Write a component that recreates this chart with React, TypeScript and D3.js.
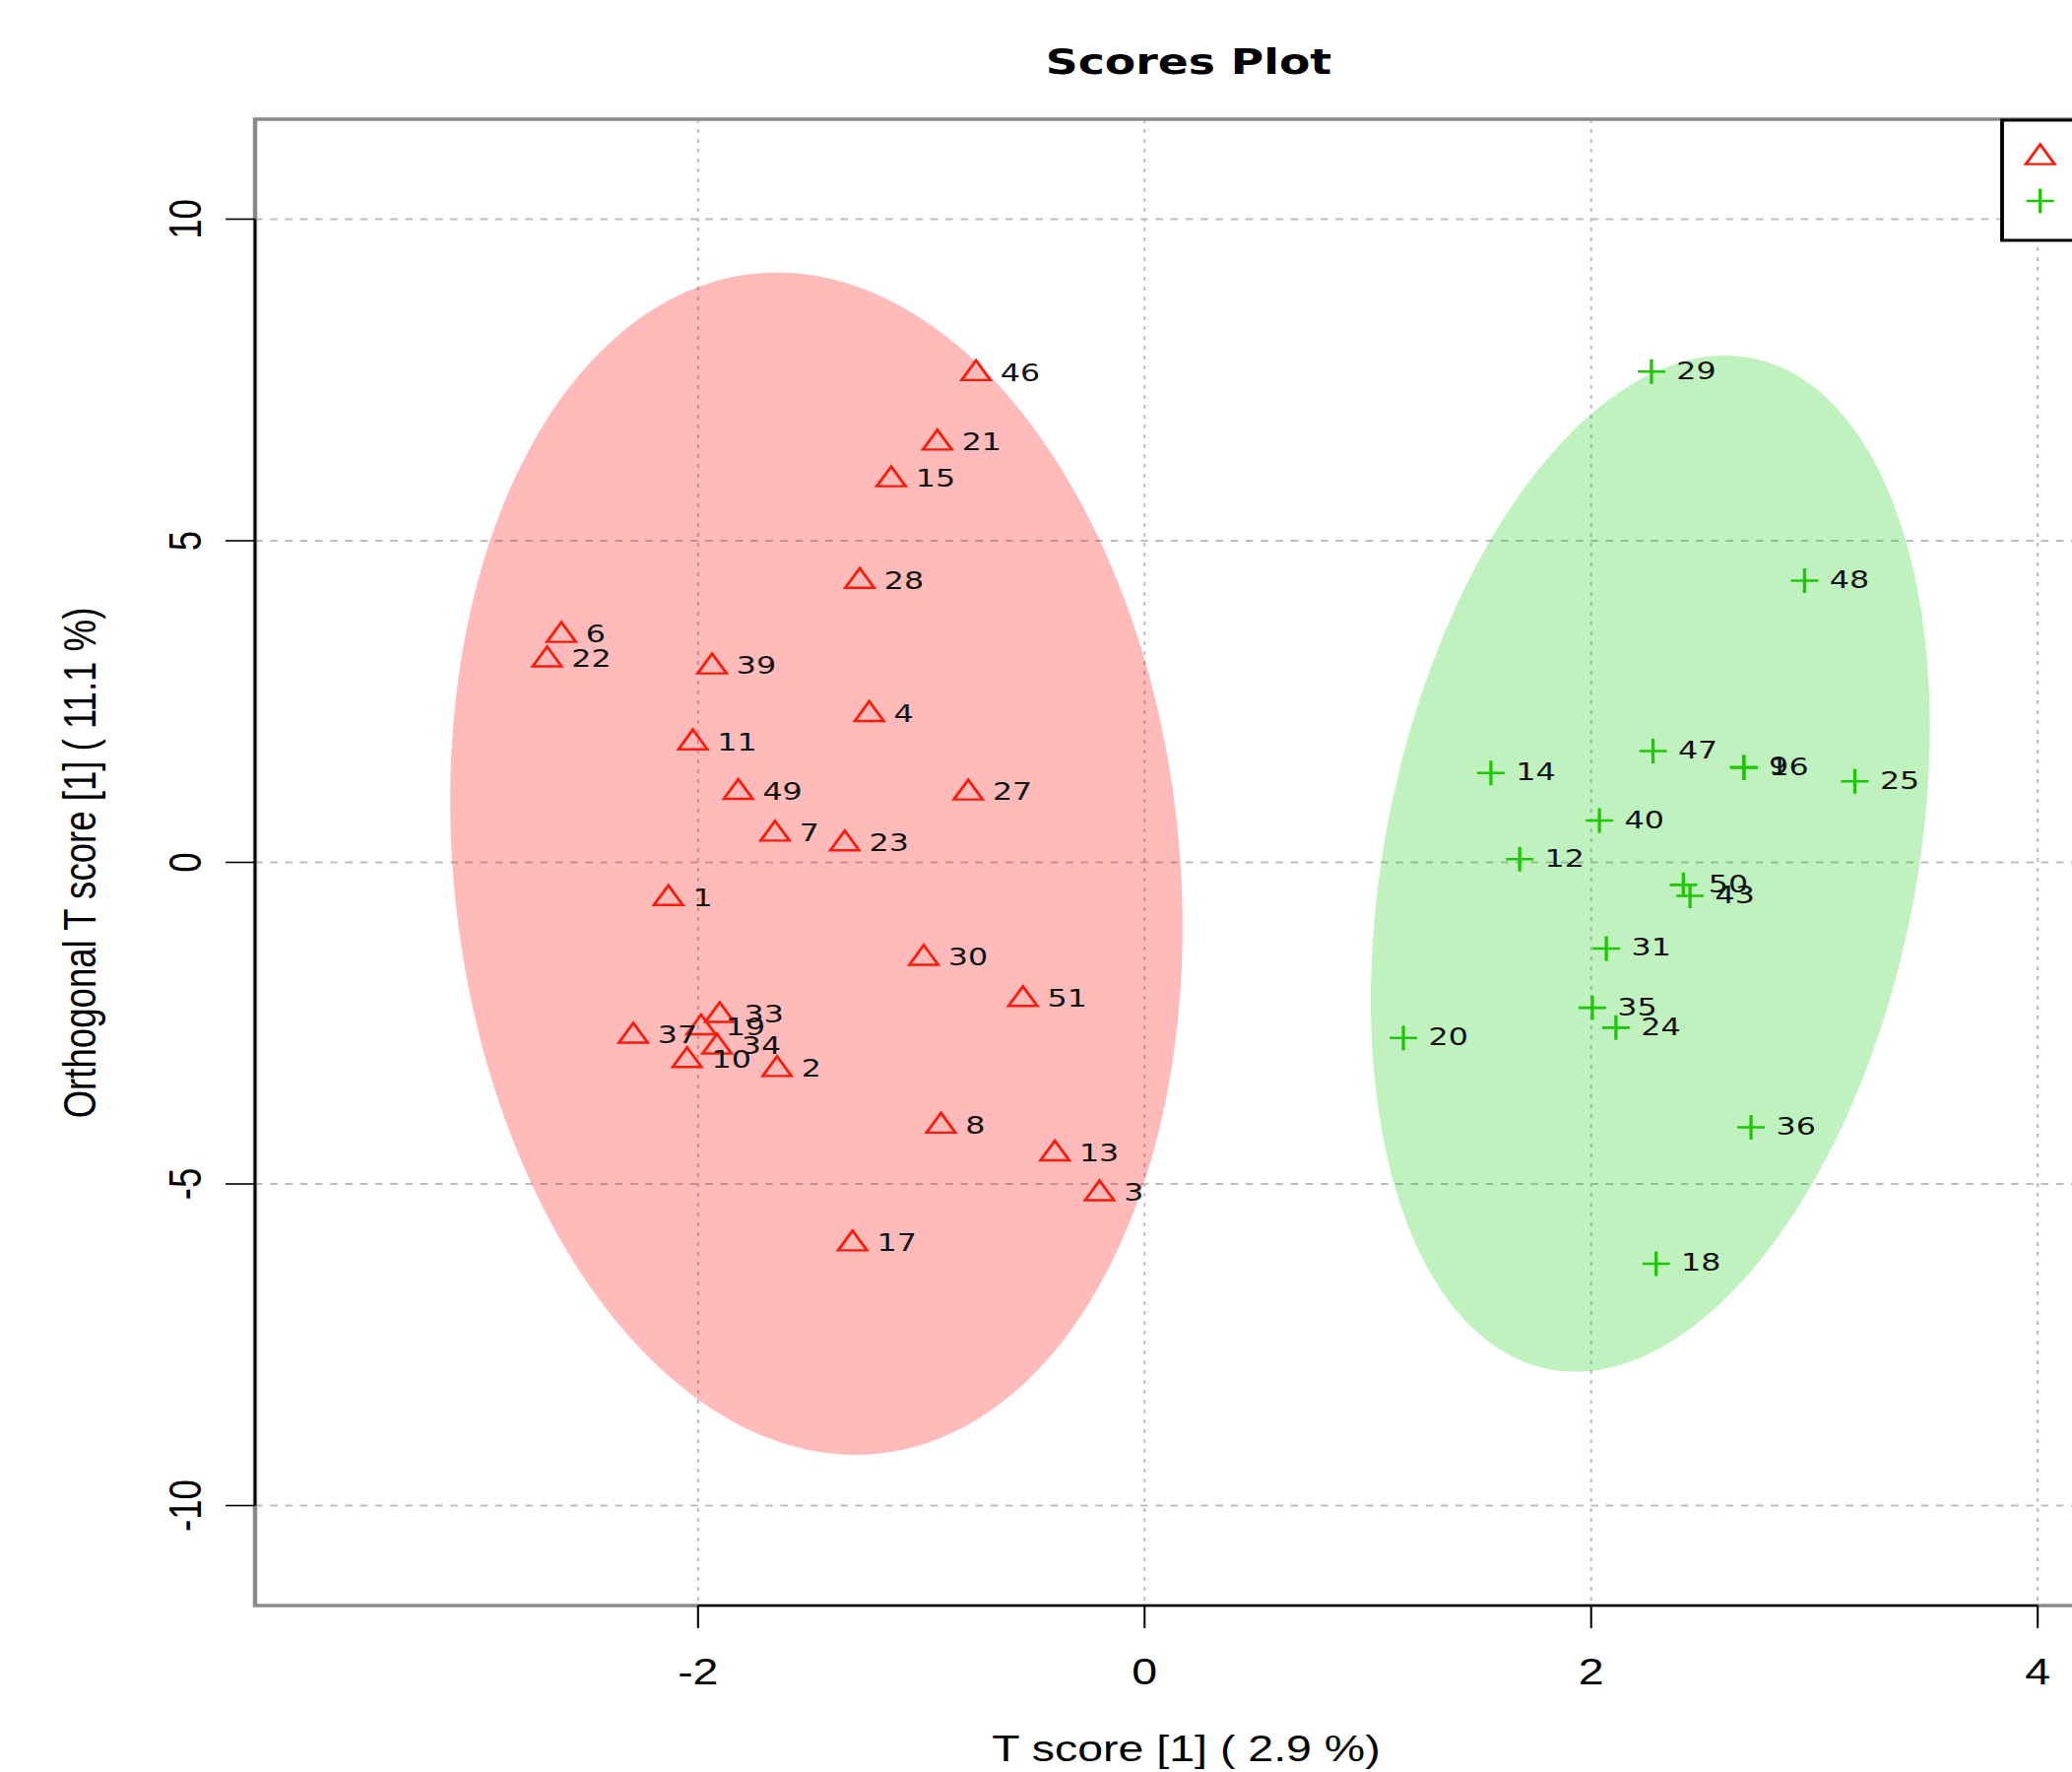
import React from 'react';
import * as d3 from 'd3';

const W = 2104;
const H = 1799;
const SX = 1.27; // horizontal stretch of the original picture

// ---- data ----
const redIds = [46, 21, 15, 28, 6, 22, 39, 4, 11, 49, 27, 7, 23, 1, 30, 51, 33, 19, 37, 34, 10, 2, 8, 13, 3, 17];
const redX = [-0.755, -0.928, -1.135, -1.276, -2.612, -2.676, -1.937, -1.233, -2.023, -1.82, -0.79, -1.655, -1.343, -2.133, -0.989, -0.545, -1.903, -1.986, -2.29, -1.915, -2.049, -1.646, -0.912, -0.402, -0.202, -1.308];
const redY = [7.6, 6.52, 5.95, 4.37, 3.53, 3.15, 3.04, 2.3, 1.86, 1.09, 1.08, 0.44, 0.29, -0.56, -1.49, -2.13, -2.38, -2.57, -2.7, -2.87, -3.08, -3.22, -4.1, -4.53, -5.15, -5.93];

const greenIds = [29, 48, 47, 9, 16, 25, 14, 40, 12, 50, 43, 31, 35, 24, 20, 36, 18];
const greenX = [2.27, 2.956, 2.277, 2.683, 2.685, 3.181, 1.551, 2.037, 1.68, 2.413, 2.443, 2.068, 2.005, 2.111, 1.159, 2.716, 2.291];
const greenY = [7.63, 4.38, 1.73, 1.48, 1.47, 1.26, 1.39, 0.65, 0.05, -0.35, -0.52, -1.34, -2.26, -2.57, -2.73, -4.12, -6.24];

// ellipse parameters (center, covariance-like matrix) per group: [red, green]
const ellCx = [-1.47, 2.265];
const ellCy = [-0.02, -0.02];
const ellMxx = [2.69, 1.567];
const ellMyy = [84.46, 62.4];
const ellMxy = [-1.61, 2.65];

const xTicks = [-2, 0, 2, 4];
const yTicks = [-10, -5, 0, 5, 10];
const xDomain = [-3.984, 4.577];
const yDomain = [-11.554, 11.554];

const titleText = 'Scores Plot';
const xLabel = 'T score [1] ( 2.9 %)';
const yLabel = 'Orthogonal T score [1] ( 11.1 %)';

const RED = '#ff1a0a';
const GREEN = '#1ec800';

export default function App() {
  const xs = d3.scaleLinear().domain(xDomain).range([259 / SX, 2200 / SX]);
  const ys = d3.scaleLinear().domain(yDomain).range([1630, 121]);

  const left = xs(xDomain[0]);
  const right = xs(xDomain[1]);
  const top = ys(yDomain[1]);
  const bottom = ys(yDomain[0]);

  const ellipsePath = (i: number) => {
    const l11 = Math.sqrt(ellMxx[i]);
    const l21 = ellMxy[i] / l11;
    const l22 = Math.sqrt(ellMyy[i] - l21 * l21);
    const pts: [number, number][] = d3.range(0, 240).map((k) => {
      const t = (k / 240) * Math.PI * 2;
      const dx = l11 * Math.cos(t);
      const dy = l21 * Math.cos(t) + l22 * Math.sin(t);
      return [xs(ellCx[i] + dx), ys(ellCy[i] + dy)];
    });
    return d3.line().curve(d3.curveLinearClosed)(pts) as string;
  };

  // R pch=2 triangle geometry
  const xc = 8.54;
  const tr = 1.5551 * xc;
  const th = 1.3468 * xc;
  const tyc = 0.7776 * xc;
  const tri = (x: number, y: number) =>
    `M${x},${y - tr}L${x + th},${y + tyc}L${x - th},${y + tyc}Z`;
  const plus = (x: number, y: number) =>
    `M${x - 11},${y}L${x + 11},${y}M${x},${y - 12.5}L${x},${y + 12.5}`;

  const gridColor = '#bdbdbd';
  const labelFont = 'DejaVu Sans, Verdana, sans-serif';
  const axisFont = 'Liberation Sans, Arial, Helvetica, sans-serif';

  return (
    <svg
      width={W}
      height={H}
      style={{ position: 'absolute', left: 0, top: 0, background: '#fff' }}
    >
      <rect x={0} y={0} width={W} height={H} fill="#fff" />
      <g transform={`scale(${SX},1)`}>
        {/* title */}
        <text
          x={1207 / SX}
          y={75}
          textAnchor="middle"
          fontFamily={labelFont}
          fontWeight="bold"
          fontSize={36}
          fill="#000"
        >
          {titleText}
        </text>

        {/* grid */}
        {xTicks.map((t) => (
          <line
            key={'gx' + t}
            x1={xs(t)}
            x2={xs(t)}
            y1={top}
            y2={bottom}
            stroke={gridColor}
            strokeWidth={1.6}
            strokeDasharray="4 6"
          />
        ))}
        {yTicks.map((t) => (
          <line
            key={'gy' + t}
            x1={left}
            x2={right}
            y1={ys(t)}
            y2={ys(t)}
            stroke={gridColor}
            strokeWidth={2}
            strokeDasharray="6 6"
          />
        ))}

        {/* ellipses */}
        <path d={ellipsePath(0)} fill="#ff0000" fillOpacity={0.27} stroke="none" />
        <path d={ellipsePath(1)} fill="#00cd00" fillOpacity={0.25} stroke="none" />

        {/* points */}
        {redIds.map((id, i) => (
          <path
            key={'r' + id}
            d={tri(xs(redX[i]), ys(redY[i]))}
            fill="none"
            stroke={RED}
            strokeWidth={2.4}
            strokeLinejoin="miter"
          />
        ))}
        {greenIds.map((id, i) => (
          <path
            key={'g' + id}
            d={plus(xs(greenX[i]), ys(greenY[i]))}
            fill="none"
            stroke={GREEN}
            strokeWidth={2.6}
          />
        ))}

        {/* labels */}
        {redIds.map((id, i) => (
          <text
            key={'rl' + id}
            x={xs(redX[i]) + 19.5}
            y={ys(redY[i])}
            dy="0.3em"
            fontFamily={labelFont}
            fontSize={25}
            fill="#111"
          >
            {id}
          </text>
        ))}
        {greenIds.map((id, i) => (
          <text
            key={'gl' + id}
            x={xs(greenX[i]) + 20}
            y={ys(greenY[i])}
            dy="0.3em"
            fontFamily={labelFont}
            fontSize={25}
            fill="#111"
          >
            {id}
          </text>
        ))}

        {/* plot box */}
        <rect
          x={left}
          y={top}
          width={right - left}
          height={bottom - top}
          fill="none"
          stroke="#8a8a8a"
          strokeWidth={3.5}
        />

        {/* x axis */}
        <line
          x1={xs(xTicks[0])}
          x2={xs(xTicks[xTicks.length - 1])}
          y1={bottom}
          y2={bottom}
          stroke="#000"
          strokeWidth={2}
        />
        {xTicks.map((t) => (
          <g key={'xt' + t}>
            <line x1={xs(t)} x2={xs(t)} y1={bottom} y2={bottom + 23} stroke="#000" strokeWidth={1.6} />
            <text
              x={xs(t)}
              y={1710}
              textAnchor="middle"
              fontFamily={axisFont}
              fontSize={36.6}
              fill="#000"
            >
              {t < 0 ? '-' + Math.abs(t) : String(t)}
            </text>
          </g>
        ))}

        {/* y axis */}
        <line
          x1={left}
          x2={left}
          y1={ys(yTicks[0])}
          y2={ys(yTicks[yTicks.length - 1])}
          stroke="#000"
          strokeWidth={2}
        />
        {yTicks.map((t) => (
          <g key={'yt' + t}>
            <line x1={left - 23.6} x2={left} y1={ys(t)} y2={ys(t)} stroke="#000" strokeWidth={1.6} />
            <text
              transform={`translate(${161},${ys(t)}) rotate(-90)`}
              textAnchor="middle"
              fontFamily={axisFont}
              fontSize={36.6}
              fill="#000"
            >
              {t < 0 ? '-' + Math.abs(t) : String(t)}
            </text>
          </g>
        ))}

        {/* axis titles */}
        <text
          x={1204.5 / SX}
          y={1788}
          textAnchor="middle"
          fontFamily={axisFont}
          fontSize={36.6}
          fill="#000"
        >
          {xLabel}
        </text>
        <text
          transform={`translate(${76.5},${876}) rotate(-90)`}
          textAnchor="middle"
          fontFamily={axisFont}
          fontSize={36.6}
          fill="#000"
        >
          {yLabel}
        </text>

        {/* legend */}
        <rect
          x={2033 / SX}
          y={122}
          width={260}
          height={122}
          fill="#fff"
          stroke="#000"
          strokeWidth={3}
        />
        <path d={tri(2071.7 / SX, 160)} fill="none" stroke={RED} strokeWidth={2.4} />
        <path d={plus(2071.7 / SX, 204)} fill="none" stroke={GREEN} strokeWidth={2.6} />
      </g>
    </svg>
  );
}
